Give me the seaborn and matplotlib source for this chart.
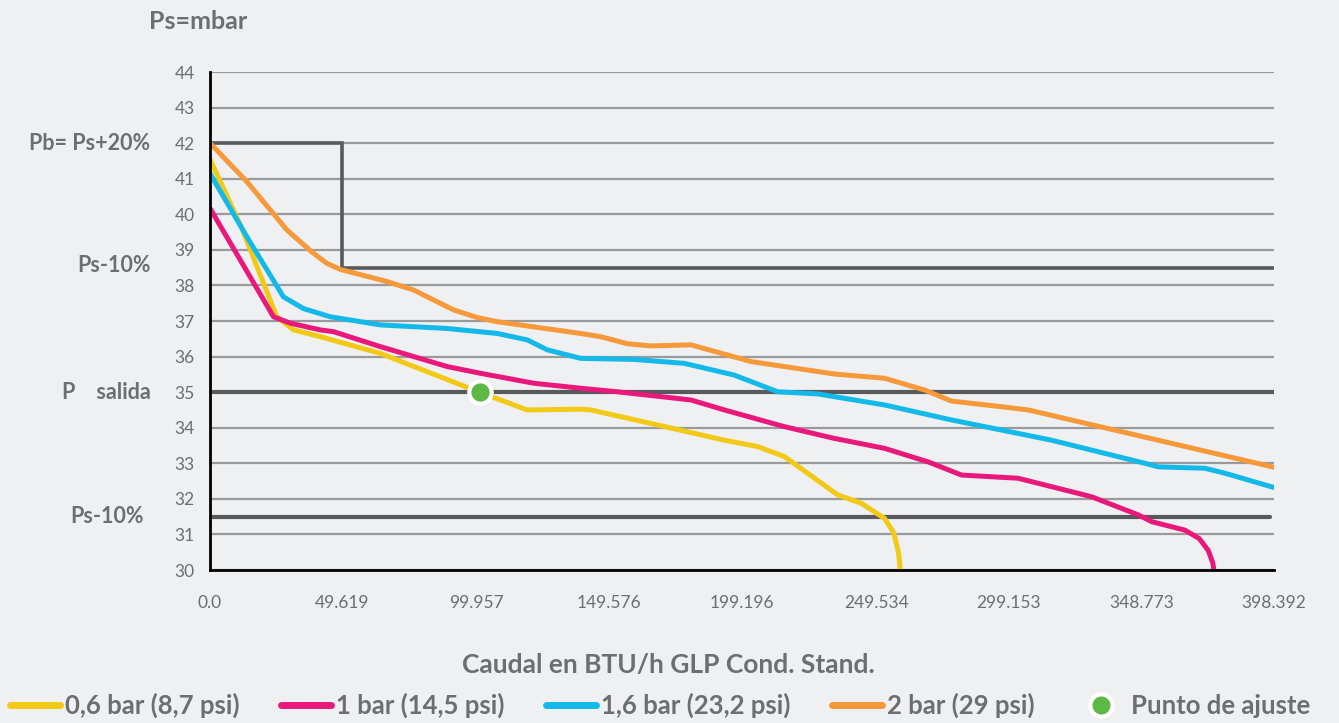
import matplotlib
matplotlib.use("Agg")
import matplotlib.pyplot as plt
from matplotlib.lines import Line2D
import pandas as pd
import seaborn as sns

# Valores: caudal (BTU/h GLP) vs presión de salida (mbar)
x_06 = [0, 12.0, 25.0, 31.3, 41.3, 63.8, 86.3, 98.8, 108.8, 118.8, 138.8, 142.6, 165.1,
        192.6, 205.1, 215.1, 235.1, 243.8, 252.6, 256.0, 257.8, 258.5]
y_06 = [41.55, 39.6, 37.12, 36.75, 36.56, 36.09, 35.43, 35.06, 34.78, 34.50, 34.52, 34.50,
        34.12, 33.65, 33.47, 33.19, 32.11, 31.88, 31.45, 31.05, 30.5, 30.0]

x_1 = [0, 23.8, 30.0, 41.3, 46.3, 63.8, 88.8, 101.3, 121.3, 138.8, 152.6, 180.1, 192.6,
       215.1, 233.8, 252.6, 268.9, 281.4, 302.6, 330.1, 347.6, 352.6, 365.1, 370.5,
       373.8, 375.5, 375.9]
y_1 = [40.17, 37.12, 36.94, 36.75, 36.70, 36.28, 35.72, 35.53, 35.25, 35.11, 35.01, 34.78,
       34.50, 34.03, 33.70, 33.42, 33.04, 32.67, 32.58, 32.06, 31.55, 31.36, 31.12, 30.88,
       30.55, 30.2, 30.0]

x_16 = [0, 13.8, 27.5, 35.0, 45.0, 63.8, 88.8, 107.6, 118.8, 126.3, 138.8, 158.8, 177.6,
        196.3, 212.6, 227.6, 252.6, 277.6, 315.1, 350.1, 355.1, 372.6, 380.1, 398.392]
y_16 = [41.15, 39.37, 37.68, 37.35, 37.12, 36.89, 36.79, 36.65, 36.47, 36.19, 35.95, 35.92,
        35.81, 35.48, 35.01, 34.95, 34.64, 34.22, 33.65, 33.00, 32.90, 32.86, 32.72, 32.32]

x_2 = [0, 13.8, 28.8, 38.0, 43.8, 48.8, 66.3, 76.3, 91.3, 100.0, 107.6, 138.8, 146.3,
       156.3, 165.0, 180.1, 202.6, 233.8, 252.6, 267.6, 277.6, 296.4, 306.4, 346.4, 398.392]
y_2 = [42.0, 40.92, 39.56, 38.95, 38.62, 38.45, 38.11, 37.87, 37.31, 37.10, 36.98, 36.65,
       36.56, 36.36, 36.30, 36.33, 35.86, 35.51, 35.39, 35.06, 34.75, 34.59, 34.50, 33.80,
       32.89]

series_names = ["0,6 bar (8,7 psi)", "1 bar (14,5 psi)", "1,6 bar (23,2 psi)", "2 bar (29 psi)"]
series_colors = ["#f2c916", "#e9197b", "#13b9e8", "#f6993a"]

punto_x = [101.3]
punto_y = [35.0]

x_ticks = [0, 49.619, 99.957, 149.576, 199.196, 249.534, 299.153, 348.773, 398.392]
x_tick_labels = ["0.0", "49.619", "99.957", "149.576", "199.196", "249.534", "299.153",
                 "348.773", "398.392"]

# límites de presión
pb_max = 42.0
ps_10_alto = 38.5
p_salida = 35.0
ps_10_bajo = 31.5
x_cierre = 49.619

BG = "#eff0f2"
TXT = "#6d6e71"
DARK = "#58595b"
GRID = "#999a9c"
FONT = ["Lato", "DejaVu Sans"]

sns.set_theme(style="white")
plt.rcParams["font.family"] = FONT

df = pd.concat([
    pd.DataFrame({"x": xs, "y": ys, "serie": name})
    for xs, ys, name in zip([x_06, x_1, x_16, x_2], [y_06, y_1, y_16, y_2], series_names)
], ignore_index=True)

fig = plt.figure(figsize=(13.39, 7.23), dpi=100, facecolor=BG)
ax = fig.add_axes([0.1568, 0.2116, 0.7946, 0.6888])
ax.set_facecolor(BG)

# rejilla horizontal
for yv in range(30, 45):
    ax.axhline(yv, color=GRID, lw=1.6, zorder=1)

# líneas de referencia
ax.plot([0, x_cierre, x_cierre, x_ticks[-1]], [pb_max, pb_max, ps_10_alto, ps_10_alto],
        color=DARK, lw=2.6, zorder=2, solid_joinstyle="miter")
ax.axhline(p_salida, color=DARK, lw=3, zorder=2)
ax.plot([0, 397.0], [ps_10_bajo, ps_10_bajo], color=DARK, lw=3, zorder=2)

sns.lineplot(data=df, x="x", y="y", hue="serie", palette=series_colors, sort=False,
             estimator=None, lw=3.6, legend=False, ax=ax, zorder=3)

ax.scatter(punto_x, punto_y, s=260, color="#5db946", edgecolor="white", linewidth=3, zorder=5)

ax.set_xlim(0, x_ticks[-1])
ax.set_ylim(30, 44)
ax.set_xticks(x_ticks)
ax.set_xticklabels(x_tick_labels)
ax.set_yticks(range(30, 45))
ax.tick_params(axis="y", length=5, width=1.5, color=GRID, labelsize=12.5, labelcolor=TXT, pad=6)
ax.tick_params(axis="x", length=5, width=1.5, color="black", labelsize=12.5, labelcolor=TXT,
               pad=13, direction="out")
ax.set_xlabel("")
ax.set_ylabel("")
for side in ["top", "right"]:
    ax.spines[side].set_visible(False)
for side in ["left", "bottom"]:
    ax.spines[side].set_color("black")
    ax.spines[side].set_linewidth(2)
    ax.spines[side].set_zorder(4)

# etiquetas a la izquierda
trans = ax.get_yaxis_transform()
lab_kw = dict(transform=trans, ha="right", va="center", color=TXT, fontsize=15.5,
              fontweight="bold")
ax.text(-0.056, 42.0, "Pb= Ps+20%", **lab_kw)
ax.text(-0.056, 38.55, "Ps-10%", **lab_kw)
ax.text(-0.056, 34.98, "P    salida", **lab_kw)
ax.text(-0.062, 31.5, "Ps-10%", **lab_kw)

fig.text(0.111, 0.97, "Ps=mbar", ha="left", va="center", color=TXT, fontsize=18,
         fontweight="bold")
fig.text(0.499, 0.08, "Caudal en BTU/h GLP Cond. Stand.", ha="center", va="center",
         color=TXT, fontsize=19, fontweight="bold")

handles = [Line2D([0], [0], color=c, lw=5, solid_capstyle="round") for c in series_colors]
handles.append(Line2D([0], [0], marker="o", ls="", markersize=16, markerfacecolor="#5db946",
                      markeredgecolor="white", markeredgewidth=3))
leg = fig.legend(handles, series_names + ["Punto de ajuste"], loc="center",
                 bbox_to_anchor=(0.493, 0.024), ncol=5, frameon=False, handlelength=1.95,
                 handletextpad=0.2, columnspacing=1.6,
                 prop={"family": FONT, "weight": "bold", "size": 18.5})
for t in leg.get_texts():
    t.set_color(TXT)

fig.savefig("out.png", dpi=100, facecolor=BG)
